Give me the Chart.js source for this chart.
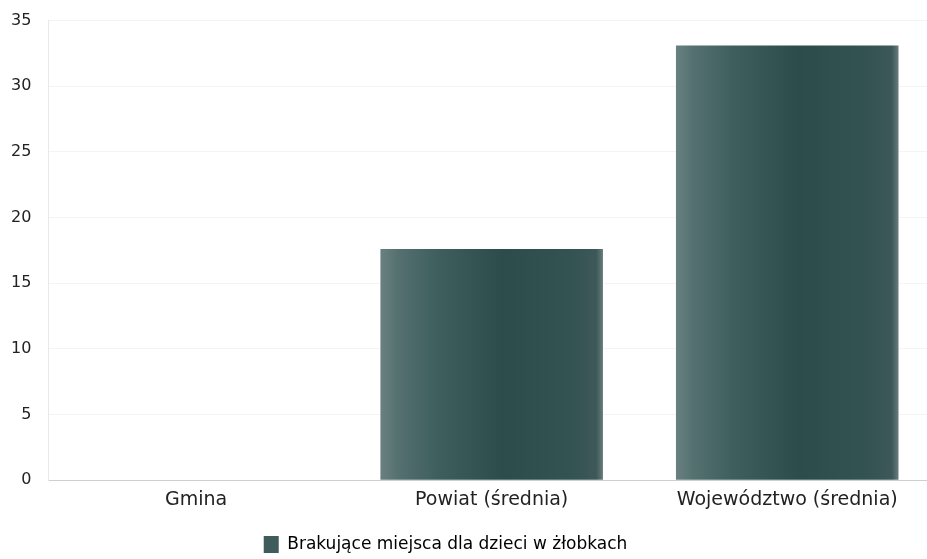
<!DOCTYPE html>
<html>
<head>
    <meta charset="utf-8">
    <title>Brakujące miejsca dla dzieci w żłobkach</title>
    <script src="https://cdn.jsdelivr.net/npm/chart.js"></script>
    <style>
        html, body { margin: 0; padding: 0; background: #fff; overflow: hidden; }
        #wrap { width: 927px; height: 559px; overflow: hidden; position: relative; }
        #myChart { position: absolute; left: -6px; top: -6px; }
    </style>
</head>
<body>
    <div id="wrap">
        <canvas id="myChart" width="941" height="569"></canvas>
    </div>

    <script>
        // dane
        const categories = ['Gmina', 'Powiat (średnia)', 'Województwo (średnia)'];
        const seriesLabel = 'Brakujące miejsca dla dzieci w żłobkach';
        const values = [0, 17.6, 33.1];

        const BAR_PCT = 0.753;
        const FONT = '"DejaVu Sans", sans-serif';

        // gradient poziomy jak na oryginale (jaśniej z lewej, ciemniej z prawej)
        function barFill(context) {
            const chart = context.chart;
            const xs = chart.scales && chart.scales.x;
            if (!xs || !chart.chartArea || context.dataIndex === undefined) return '#355252';
            const cx = xs.getPixelForValue(context.dataIndex);
            const w = chart.chartArea.width / categories.length * BAR_PCT;
            const left = cx - w / 2;
            const g = chart.ctx.createLinearGradient(left, 0, left + w, 0);
            g.addColorStop(0, '#6a8080');
            g.addColorStop(0.08, '#557070');
            g.addColorStop(0.25, '#3f5f5f');
            g.addColorStop(0.55, '#2c4c4c');
            g.addColorStop(0.85, '#335252');
            g.addColorStop(0.97, '#3d5858');
            g.addColorStop(1, '#6a7c7c');
            return g;
        }

        // legenda w oryginale jest trochę przesunięta w lewo
        const legendShift = {
            id: 'legendShift',
            afterLayout(chart) {
                if (chart.legend) {
                    chart.legend.left -= 19;
                    chart.legend.right -= 19;
                }
            }
        };

        const ctx = document.getElementById('myChart').getContext('2d');
        const myChart = new Chart(ctx, {
            type: 'bar',
            data: {
                labels: categories,
                datasets: [{
                    label: seriesLabel,
                    data: values,
                    backgroundColor: barFill,
                    borderWidth: 0,
                    barPercentage: BAR_PCT,
                    categoryPercentage: 1.0
                }]
            },
            options: {
                responsive: false,
                animation: false,
                layout: { padding: { top: 0, right: 0, left: 0, bottom: 0 } },
                scales: {
                    x: {
                        grid: { display: false, drawTicks: false },
                        border: { color: '#cfcfcf' },
                        ticks: { color: '#222', padding: 8, font: { size: 19, family: FONT } }
                    },
                    y: {
                        min: 0,
                        max: 35,
                        ticks: { stepSize: 5, color: '#222', padding: 17, font: { size: 16, family: FONT } },
                        grid: { color: '#f4f4f4', drawTicks: false },
                        border: { color: '#e8e8e8' }
                    }
                },
                plugins: {
                    legend: {
                        position: 'bottom',
                        labels: {
                            color: '#222',
                            boxWidth: 15,
                            boxHeight: 17,
                            padding: 17,
                            font: { size: 17, family: FONT },
                            generateLabels: function (chart) {
                                return [{
                                    text: seriesLabel,
                                    fillStyle: '#3f5b5b',
                                    strokeStyle: '#3f5b5b',
                                    lineWidth: 0,
                                    datasetIndex: 0
                                }];
                            }
                        }
                    },
                    tooltip: { enabled: false }
                }
            },
            plugins: [legendShift]
        });
    </script>
</body>
</html>
